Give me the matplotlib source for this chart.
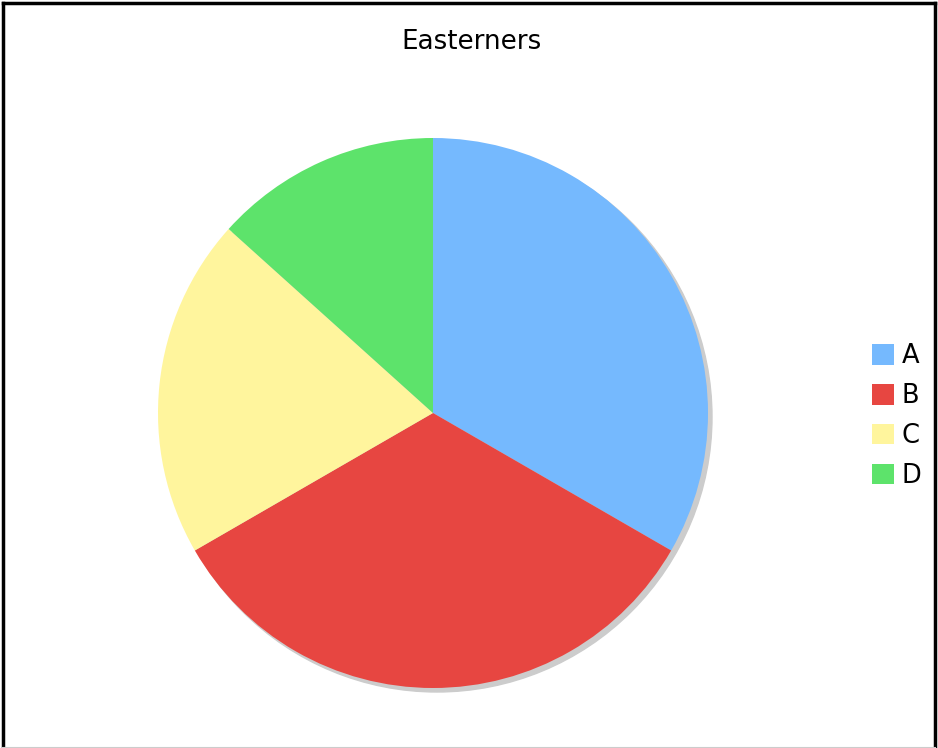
import matplotlib
matplotlib.use("Agg")
import matplotlib.pyplot as plt
from matplotlib.patches import Circle
from matplotlib.lines import Line2D

labels = ["A", "B", "C", "D"]
values = [5, 5, 3, 2]
colors = ["#75b9fe", "#e74641", "#fff59d", "#5de36b"]
title = "Easterners"

W, H = 938, 748
fig = plt.figure(figsize=(W / 100, H / 100), dpi=100)
ax = fig.add_axes([0, 0, 1, 1])

cx, cy, r = 433, H - 413, 275

# shadow
ax.add_patch(Circle((cx + 4, cy - 4), r, color="#cccccc", zorder=0))

wedges, _ = ax.pie(values, colors=colors, startangle=90, counterclock=False,
                   center=(cx, cy), radius=r,
                   wedgeprops=dict(linewidth=0, zorder=1))
ax.set_xlim(0, W)
ax.set_ylim(0, H)
ax.set_aspect("equal")
ax.axis("off")

fig.text(471 / W, 1 - 42 / H, title, ha="center", va="center", fontsize=18.8)

leg = fig.legend(wedges, labels, loc="center left",
                 bbox_to_anchor=(872 / W, 1 - 416 / H),
                 frameon=False, fontsize=18.5, handlelength=0.86,
                 handleheight=0.86, handletextpad=0.3, labelspacing=0.54,
                 borderpad=0, borderaxespad=0)

# outer border
fig.add_artist(Line2D([3 / W, 3 / W], [0, 1 - 3 / H], transform=fig.transFigure,
                      color="black", lw=2.5))
fig.add_artist(Line2D([3 / W, 1 - 3 / W], [1 - 3 / H, 1 - 3 / H],
                      transform=fig.transFigure, color="black", lw=2.5))
fig.add_artist(Line2D([1 - 3 / W, 1 - 3 / W], [0, 1 - 3 / H],
                      transform=fig.transFigure, color="black", lw=2.5))
fig.add_artist(Line2D([3 / W, 1 - 3 / W], [0.5 / H, 0.5 / H],
                      transform=fig.transFigure, color="#cccccc", lw=1.5))

fig.savefig("out.png", dpi=100)
